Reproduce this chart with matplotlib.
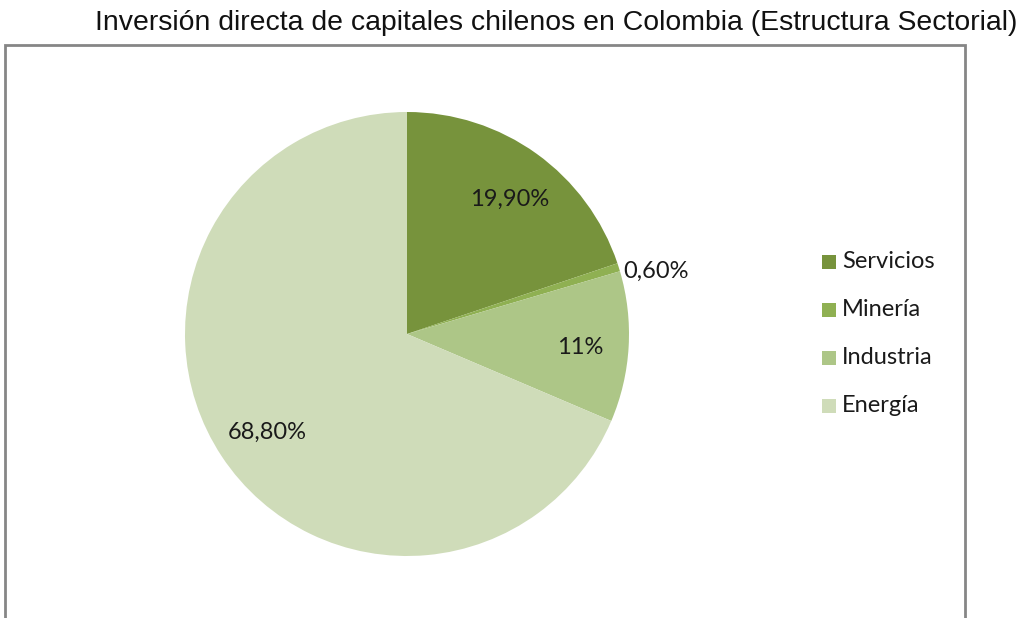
import matplotlib
matplotlib.use("Agg")
import matplotlib.pyplot as plt
from matplotlib.patches import Rectangle
import numpy as np

TITLE = "Inversión directa de capitales chilenos en Colombia (Estructura Sectorial)"
sectors = ["Servicios", "Minería", "Industria", "Energía"]
shares = [19.9, 0.6, 11.0, 68.8]
pct_labels = ["19,90%", "0,60%", "11%", "68,80%"]
colors = ["#77933c", "#8fb052", "#adc687", "#cfdcb9"]

W, H = 1019, 618
body_font = "Lato"

fig = plt.figure(figsize=(W / 100, H / 100), dpi=100)
ax = fig.add_axes([0, 0, 1, 1])

# chart frame (bottom runs off the picture)
ax.add_patch(Rectangle((5, -10), 960, H - 45 + 10, fill=False,
                       edgecolor="#868686", linewidth=2))

cx, cy, r = 407, H - 334, 222
wedges, _ = ax.pie(shares, colors=colors, startangle=90, counterclock=False,
                   center=(cx, cy), radius=r, frame=True,
                   wedgeprops={"linewidth": 0})
ax.set_xlim(0, W)
ax.set_ylim(0, H)
ax.set_aspect("equal")
ax.axis("off")

# percentage labels (small slice gets its label outside)
for w, lab in zip(wedges, pct_labels):
    ang = np.deg2rad((w.theta1 + w.theta2) / 2)
    if w.theta2 - w.theta1 < 5:
        ax.text(cx + 1.02 * r * np.cos(ang), cy + 1.0 * r * np.sin(ang) - 4, lab,
                ha="left", va="center", fontsize=17, family=body_font,
                color="#1a1a1a")
    else:
        d = 0.77
        ax.text(cx + d * r * np.cos(ang) + 3, cy + d * r * np.sin(ang) - 4, lab,
                ha="center", va="center", fontsize=17, family=body_font,
                color="#1a1a1a")

# legend
for i, (name, col) in enumerate(zip(sectors, colors)):
    y = H - 262 - 48 * i
    ax.add_patch(Rectangle((822, y - 7), 14, 14, facecolor=col, edgecolor="none"))
    ax.text(842, y, name, ha="left", va="center", fontsize=17,
            family=body_font, color="#1a1a1a")

ax.text(556, H - 23, TITLE, ha="center", va="center", fontsize=20.4,
        family="Liberation Sans", color="#111111")

fig.savefig("out.png", dpi=100)
